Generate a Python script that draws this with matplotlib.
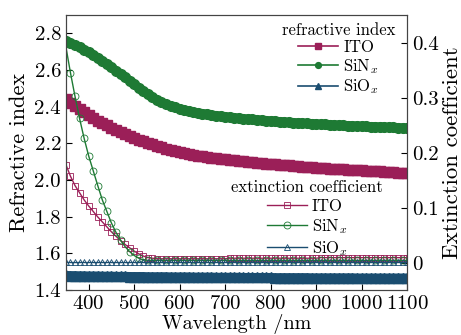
import numpy as np
import matplotlib
matplotlib.use("Agg")
import matplotlib.pyplot as plt

plt.rcParams['font.family'] = ['cmr10', 'DejaVu Serif']
plt.rcParams['mathtext.fontset'] = 'cm'
plt.rcParams['axes.formatter.use_mathtext'] = True

# wavelength grid, nm
wl = np.arange(350, 1101, 10)

# refractive index
n_ito = [2.440, 2.422, 2.405, 2.388, 2.371, 2.355, 2.340, 2.325, 2.311, 2.298,
         2.285, 2.273, 2.261, 2.250, 2.240, 2.230, 2.221, 2.212, 2.203, 2.195,
         2.187, 2.179, 2.171, 2.164, 2.157, 2.151, 2.146, 2.141, 2.137, 2.133,
         2.129, 2.126, 2.123, 2.120, 2.117, 2.114, 2.111, 2.108, 2.105, 2.102,
         2.099, 2.097, 2.095, 2.092, 2.090, 2.088, 2.086, 2.084, 2.082, 2.080,
         2.078, 2.076, 2.074, 2.072, 2.070, 2.068, 2.067, 2.065, 2.063, 2.062,
         2.060, 2.059, 2.057, 2.056, 2.054, 2.053, 2.051, 2.050, 2.048, 2.047,
         2.045, 2.044, 2.043, 2.041, 2.040, 2.038]
n_sin = [2.760, 2.748, 2.736, 2.724, 2.711, 2.698, 2.683, 2.667, 2.650, 2.633,
         2.615, 2.597, 2.580, 2.561, 2.542, 2.523, 2.504, 2.486, 2.468, 2.452,
         2.437, 2.424, 2.413, 2.404, 2.396, 2.389, 2.383, 2.377, 2.372, 2.367,
         2.363, 2.359, 2.355, 2.352, 2.349, 2.346, 2.343, 2.340, 2.338, 2.335,
         2.333, 2.331, 2.329, 2.327, 2.325, 2.323, 2.321, 2.319, 2.317, 2.315,
         2.314, 2.312, 2.311, 2.309, 2.308, 2.306, 2.305, 2.304, 2.302, 2.301,
         2.300, 2.299, 2.297, 2.296, 2.295, 2.294, 2.293, 2.292, 2.291, 2.290,
         2.289, 2.288, 2.287, 2.286, 2.285, 2.284]
n_sio = [1.480, 1.479, 1.479, 1.478, 1.478, 1.477, 1.477, 1.477, 1.476, 1.476,
         1.476, 1.475, 1.475, 1.475, 1.474, 1.474, 1.474, 1.474, 1.473, 1.473,
         1.473, 1.473, 1.473, 1.472, 1.472, 1.472, 1.472, 1.472, 1.471, 1.471,
         1.471, 1.471, 1.471, 1.470, 1.470, 1.470, 1.470, 1.470, 1.470, 1.469,
         1.469, 1.469, 1.469, 1.469, 1.469, 1.469, 1.468, 1.468, 1.468, 1.468,
         1.468, 1.468, 1.468, 1.468, 1.467, 1.467, 1.467, 1.467, 1.467, 1.467,
         1.467, 1.467, 1.467, 1.467, 1.466, 1.466, 1.466, 1.466, 1.466, 1.466,
         1.466, 1.466, 1.466, 1.466, 1.466, 1.466]

# extinction coefficient
k_ito = [0.178, 0.157, 0.140, 0.127, 0.114, 0.103, 0.093, 0.083, 0.074, 0.065,
         0.056, 0.048, 0.040, 0.033, 0.027, 0.021, 0.016, 0.012, 0.009, 0.008,
         0.007, 0.007, 0.007, 0.007, 0.007, 0.007, 0.007, 0.007, 0.007, 0.007,
         0.007, 0.007, 0.007, 0.007, 0.007, 0.007, 0.008, 0.008, 0.008, 0.008,
         0.008, 0.008, 0.008, 0.008, 0.008, 0.008, 0.008, 0.008, 0.008, 0.008,
         0.008, 0.008, 0.008, 0.008, 0.008, 0.008, 0.009, 0.009, 0.009, 0.009,
         0.009, 0.009, 0.009, 0.009, 0.009, 0.009, 0.009, 0.009, 0.009, 0.009,
         0.009, 0.009, 0.009, 0.009, 0.009, 0.009]
k_sin = [0.392, 0.345, 0.302, 0.262, 0.226, 0.194, 0.167, 0.140, 0.114, 0.093,
         0.072, 0.055, 0.041, 0.029, 0.020, 0.013, 0.008, 0.005, 0.004, 0.004,
         0.004, 0.004, 0.004, 0.004, 0.004, 0.004, 0.004, 0.004, 0.004, 0.004,
         0.004, 0.004, 0.004, 0.004, 0.004, 0.004, 0.004, 0.004, 0.004, 0.004,
         0.004, 0.004, 0.004, 0.004, 0.004, 0.004, 0.004, 0.004, 0.004, 0.004,
         0.004, 0.004, 0.004, 0.004, 0.004, 0.004, 0.004, 0.004, 0.004, 0.004,
         0.004, 0.004, 0.004, 0.004, 0.004, 0.004, 0.004, 0.004, 0.004, 0.004,
         0.004, 0.004, 0.004, 0.004, 0.004, 0.004]
k_sio = [0.002] * len(wl)

labels = ['ITO', 'SiN$_x$', 'SiO$_x$']
colors = ['#9b1f58', '#1e7a34', '#1a4d70']

fig = plt.figure(figsize=(4.61, 3.35), dpi=100)
ax = fig.add_axes([0.143, 0.134, 0.740, 0.821])
ax2 = ax.twinx()

h1 = []
for n, m, c, lab in zip([n_ito, n_sin, n_sio], ['s', 'o', '^'], colors, labels):
    # dense markers merge into a solid band in the original
    ax.plot(wl, n, color=c, lw=6.5, solid_capstyle='butt')
    l, = ax.plot(wl, n, color=c, marker=m, markersize=7, lw=1.2, label=lab)
    h1.append(l)

h2 = []
sin_marks = list(range(1, 12)) + list(range(12, len(wl), 2))
for k, m, c, lab, me in zip([k_ito, k_sin, k_sio], ['s', 'o', '^'], colors, labels,
                            [None, sin_marks, None]):
    l, = ax2.plot(wl, k, color=c, marker=m, markersize=5, mfc='none', mew=0.6,
                  lw=1.0, label=lab, markevery=me)
    h2.append(l)

ax.set_xlim(350, 1100)
ax.set_ylim(1.4, 2.9)
ax2.set_ylim(-0.05, 0.45)
ax.set_xticks(range(400, 1101, 100))
ax.set_yticks(np.arange(1.4, 2.81, 0.2))
ax2.set_yticks([0, 0.1, 0.2, 0.3, 0.4])
ax2.set_yticklabels(['0', '0.1', '0.2', '0.3', '0.4'])
ax.set_yticklabels(['%.1f' % v for v in np.arange(1.4, 2.81, 0.2)])

ax.tick_params(direction='in', labelsize=15, length=4, top=False)
ax2.tick_params(direction='in', labelsize=15, length=4)
for a in (ax, ax2):
    for s in a.spines.values():
        s.set_color('#444444')

ax.set_xlabel('Wavelength /nm', fontsize=14.5, labelpad=1)
ax.set_ylabel('Refractive index', fontsize=16, labelpad=4)
ax2.set_ylabel('Extinction coefficient', fontsize=16.5, labelpad=3)

leg1 = ax2.legend(handles=h1, title='refractive index', loc='upper right',
                  bbox_to_anchor=(1.005, 1.02), frameon=False, fontsize=12,
                  title_fontsize=12, markerscale=0.6, handlelength=2.4,
                  handletextpad=0.3, labelspacing=0.1, borderpad=0.3)
ax2.add_artist(leg1)
ax2.legend(handles=h2, title='extinction coefficient', loc='upper right',
           bbox_to_anchor=(0.968, 0.45), frameon=False, fontsize=12,
           title_fontsize=12, handlelength=2.4, handletextpad=0.3,
           labelspacing=0.2, borderpad=0.3)

fig.savefig('out.png', dpi=100)
